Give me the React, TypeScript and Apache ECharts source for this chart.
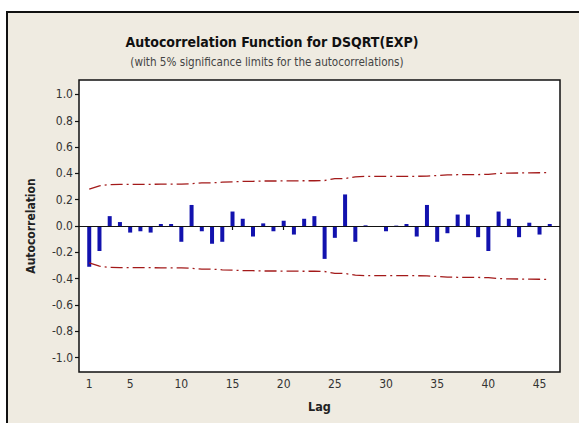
import React, { useEffect, useRef } from "react";
import * as echarts from "echarts";

const lags: number[] = Array.from({ length: 46 }, (_, i) => i + 1);

const acfValues: number[] = [
  -0.31, -0.19, 0.075, 0.03, -0.05, -0.04, -0.05, 0.015, 0.015, -0.12,
  0.16, -0.04, -0.135, -0.12, 0.11, 0.055, -0.08, 0.02, -0.04, 0.04,
  -0.065, 0.055, 0.075, -0.25, -0.09, 0.24, -0.12, 0.005, -0.005, -0.04,
  0.003, 0.015, -0.08, 0.16, -0.12, -0.055, 0.087, 0.087, -0.085, -0.19,
  0.11, 0.055, -0.085, 0.025, -0.065, 0.015,
];

const upperLimit: number[] = [
  0.28, 0.305, 0.315, 0.316, 0.316, 0.317, 0.317, 0.318, 0.318, 0.318,
  0.322, 0.328, 0.328, 0.333, 0.336, 0.339, 0.34, 0.342, 0.342, 0.343,
  0.343, 0.344, 0.344, 0.346, 0.36, 0.361, 0.374, 0.377, 0.377, 0.377,
  0.378, 0.378, 0.378, 0.379, 0.384, 0.388, 0.39, 0.39, 0.391, 0.393,
  0.4, 0.402, 0.403, 0.404, 0.405, 0.406,
];

const xTickValues: number[] = [1, 5, 10, 15, 20, 25, 30, 35, 40, 45];
const yTickValues: number[] = [-1.0, -0.8, -0.6, -0.4, -0.2, 0.0, 0.2, 0.4, 0.6, 0.8, 1.0];

const titleText = "Autocorrelation Function for DSQRT(EXP)";
const subtitleText = "(with 5% significance limits for the autocorrelations)";

const FONT = "'Liberation Sans Narrow', 'DejaVu Sans Condensed', 'Arial Narrow', sans-serif";

export default function App() {
  const ref = useRef<HTMLDivElement>(null);

  useEffect(() => {
    if (!ref.current) return;
    const chart = echarts.init(ref.current, undefined, { renderer: "svg" });
    const limitLineStyle = {
      color: "#A31A1A",
      width: 1.3,
      type: [12, 4, 2, 4] as number[],
    };
    chart.setOption({
      animation: false,
      backgroundColor: "#ffffff",
      graphic: [
        {
          type: "rect",
          z: -10,
          shape: { x: 7, y: 12, width: 600, height: 500 },
          style: { fill: "#EFEBE1", stroke: "#111", lineWidth: 2 },
        },
        {
          type: "text",
          x: 272,
          y: 42,
          style: {
            text: titleText,
            fontFamily: FONT,
            fontSize: 14,
            fontWeight: "bold",
            fill: "#111",
            align: "center",
            verticalAlign: "middle",
          },
        },
        {
          type: "text",
          x: 267,
          y: 62,
          style: {
            text: subtitleText,
            fontFamily: FONT,
            fontSize: 11.6,
            fill: "#444",
            align: "center",
            verticalAlign: "middle",
          },
        },
      ],
      grid: {
        left: 79,
        right: 19,
        top: 80,
        bottom: 51,
        show: true,
        backgroundColor: "#ffffff",
        borderColor: "#111",
        borderWidth: 1.5,
      },
      xAxis: {
        type: "value",
        min: 0,
        max: 47,
        name: "Lag",
        nameLocation: "middle",
        nameGap: 28,
        nameTextStyle: { fontFamily: FONT, fontSize: 12.5, fontWeight: "bold", color: "#222" },
        axisLine: { show: false },
        splitLine: { show: false },
        axisTick: {
          show: true,
          length: 4,
          customValues: xTickValues,
          lineStyle: { color: "#111", width: 1.2 },
        },
        axisLabel: {
          customValues: xTickValues,
          fontFamily: FONT,
          fontSize: 12,
          color: "#333",
          margin: 6,
        },
      },
      yAxis: {
        type: "value",
        min: -1.11,
        max: 1.11,
        name: "Autocorrelation",
        nameLocation: "middle",
        nameGap: 42,
        nameTextStyle: { fontFamily: FONT, fontSize: 12, fontWeight: "bold", color: "#222" },
        axisLine: { show: false },
        splitLine: { show: false },
        axisTick: {
          show: true,
          length: 4,
          customValues: yTickValues,
          lineStyle: { color: "#111", width: 1.2 },
        },
        axisLabel: {
          customValues: yTickValues,
          formatter: (v: number) => v.toFixed(1),
          fontFamily: FONT,
          fontSize: 12,
          color: "#333",
          margin: 6,
        },
      },
      series: [
        {
          type: "bar",
          data: lags.map((l, i) => [l, acfValues[i]]),
          barWidth: 4,
          itemStyle: { color: "#1212AE" },
          markLine: {
            silent: true,
            symbol: ["none", "none"],
            label: { show: false },
            lineStyle: { color: "#111", width: 1.2, type: "solid" },
            data: [{ yAxis: 0 }],
          },
        },
        {
          type: "line",
          data: lags.map((l, i) => [l, upperLimit[i]]),
          symbol: "none",
          lineStyle: limitLineStyle,
        },
        {
          type: "line",
          data: lags.map((l, i) => [l, -upperLimit[i]]),
          symbol: "none",
          lineStyle: limitLineStyle,
        },
      ],
    });
    return () => chart.dispose();
  }, []);

  return (
    <div
      ref={ref}
      style={{ position: "fixed", left: 0, top: 0, width: 579, height: 423 }}
    />
  );
}
